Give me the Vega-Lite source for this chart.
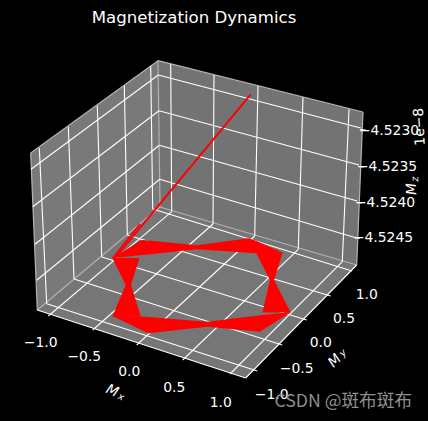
{
"$schema":"https://vega.github.io/schema/vega-lite/v6.json",
"width":428,"height":421,"padding":0,
"autosize":{"type":"fit","contains":"padding"},
"background":"#000000",
"view":{"stroke":null},
"config":{"text":{"font":"DejaVu Sans","color":"#ffffff"}},
"datasets":{
"panes":[
{"pane":"x","u":30.7,"v":153,"v2":153},{"pane":"x","u":37.3,"v":148.2,"v2":310},{"pane":"x","u":158,"v":60.7,"v2":208.5},{"pane":"x","u":160,"v":207,"v2":207},
{"pane":"y","u":158,"v":60.7,"v2":60.7},{"pane":"y","u":160,"v":61.2,"v2":207},{"pane":"y","u":356.7,"v":110.4,"v2":265},{"pane":"y","u":363,"v":112,"v2":112},
{"pane":"z","u":37.3,"v":310,"v2":310},{"pane":"z","u":160,"v":207,"v2":350},{"pane":"z","u":245.7,"v":232.3,"v2":378},{"pane":"z","u":356.7,"v":265,"v2":265}
],
"edges":[
{"u":30.7,"v":153,"u2":158,"v2":60.7},{"u":158,"v":60.7,"u2":363,"v2":112},{"u":158,"v":60.7,"u2":160,"v2":207},
{"u":160,"v":207,"u2":37.3,"v2":310},{"u":160,"v":207,"u2":356.7,"v2":265},{"u":30.7,"v":153,"u2":37.3,"v2":310},{"u":363,"v":112,"u2":356.7,"v2":265}
],
"grid":[
{"u":48.3,"v":316,"u2":171.7,"v2":211.7},{"u":171.7,"v":211.7,"u2":170.7,"v2":64},
{"u":92.7,"v":330,"u2":213,"v2":224},{"u":213,"v":224,"u2":214,"v2":75},
{"u":136.7,"v":345,"u2":254.7,"v2":236},{"u":254.7,"v":236,"u2":258,"v2":86},
{"u":182.7,"v":360,"u2":298.3,"v2":249.3},{"u":298.3,"v":249.3,"u2":303,"v2":97.3},
{"u":230,"v":374,"u2":342.3,"v2":261.7},{"u":342.3,"v":261.7,"u2":349,"v2":109.3},
{"u":46.7,"v":303.7,"u2":257.3,"v2":371},{"u":74,"v":279,"u2":282.3,"v2":345},{"u":101.7,"v":257,"u2":306.7,"v2":320},{"u":127.3,"v":235,"u2":330.7,"v2":296},{"u":152.7,"v":209,"u2":352,"v2":271},
{"u":39.3,"v":148,"u2":46.7,"v2":303.7},{"u":68.3,"v":126.7,"u2":74,"v2":279},{"u":97.3,"v":105.7,"u2":101.7,"v2":257},{"u":124.3,"v":85.7,"u2":127.3,"v2":235},{"u":150.7,"v":66,"u2":152.7,"v2":209},
{"u":31,"v":169.3,"u2":158.3,"v2":75},{"u":32.7,"v":206.7,"u2":159,"v2":110.7},{"u":35,"v":244.3,"u2":159.3,"v2":145.3},{"u":36.7,"v":280.3,"u2":159.7,"v2":179.3},
{"u":158.3,"v":75,"u2":360.7,"v2":128},{"u":159,"v":110.7,"u2":359,"v2":165},{"u":159.3,"v":145.3,"u2":357.3,"v2":201},{"u":159.7,"v":179.3,"u2":355.7,"v2":237.7},
{"u":360,"v":129.5,"u2":366,"v2":130},{"u":358.4,"v":166.5,"u2":364,"v2":167},{"u":356.7,"v":202.5,"u2":362,"v2":203},{"u":355,"v":238,"u2":360,"v2":238.3}
],
"axes":[
{"u":37.3,"v":310,"u2":245.7,"v2":378},{"u":245.7,"v":378,"u2":356.7,"v2":265}
],
"bandsV":[
{"part":"top","u":112.3,"v":258.3,"v2":258.3},{"part":"top","u":140,"v":241,"v2":255.3},{"part":"top","u":143.3,"v":240,"v2":254.9},{"part":"top","u":197,"v":245.3,"v2":249.3},{"part":"top","u":248.3,"v":238.2,"v2":252.7},{"part":"top","u":256,"v":240.7,"v2":253.3},{"part":"top","u":282.7,"v":252.7,"v2":252.7},
{"part":"bottom","u":112.3,"v":316,"v2":316},{"part":"bottom","u":141,"v":316.5,"v2":329.8},{"part":"bottom","u":148.3,"v":317,"v2":333.3},{"part":"bottom","u":207,"v":321.7,"v2":326.7},{"part":"bottom","u":260,"v":315.3,"v2":331.7},{"part":"bottom","u":262.7,"v":315,"v2":330},{"part":"bottom","u":290.7,"v":312.3,"v2":312.3}
],
"bandsH":[
{"part":"left","v":258,"u":112.3,"u2":139.4},{"part":"left","v":285,"u":125.7,"u2":131},{"part":"left","v":316.5,"u":112.3,"u2":140.8},
{"part":"right","v":252.7,"u":282.7,"u2":256},{"part":"right","v":280,"u":274,"u2":270},{"part":"right","v":312.5,"u":290.7,"u2":262.4}
],
"trace":[
{"u":250.7,"v":94.3,"u2":116.2,"v2":256.7},{"u":140,"v":224,"u2":113,"v2":258}
],
"ticklabels":[
{"label":"−1.0","u":40.7,"v":343.3},{"label":"−0.5","u":84.3,"v":357},{"label":"0.0","u":129.3,"v":372.3},{"label":"0.5","u":174.3,"v":388},{"label":"1.0","u":220.7,"v":403},
{"label":"−1.0","u":271.7,"v":395},{"label":"−0.5","u":296.7,"v":369.3},{"label":"0.0","u":320.7,"v":343.3},{"label":"0.5","u":344,"v":319.3},{"label":"1.0","u":366.7,"v":295},
{"label":"−4.5230","u":389,"v":130.7},{"label":"−4.5235","u":387,"v":167},{"label":"−4.5240","u":385,"v":203},{"label":"−4.5245","u":383,"v":237.7}
]
},
"encoding":{
"x":{"field":"u","type":"quantitative","axis":null,"scale":{"domain":[0,428],"nice":false,"zero":false}},
"y":{"field":"v","type":"quantitative","axis":null,"scale":{"domain":[421,0],"nice":false,"zero":false}}
},
"layer":[
{"data":{"name":"panes"},"mark":{"type":"area","orient":"vertical"},
 "encoding":{"y2":{"field":"v2"},"color":{"field":"pane","type":"nominal","legend":null,"scale":{"domain":["x","y","z"],"range":["#797979","#737373","#767676"]}}}},
{"data":{"name":"edges"},"mark":{"type":"rule","color":"#b4b4b4","strokeWidth":1.2},"encoding":{"x2":{"field":"u2"},"y2":{"field":"v2"}}},
{"data":{"name":"grid"},"mark":{"type":"rule","color":"#ffffff","strokeWidth":1.1},"encoding":{"x2":{"field":"u2"},"y2":{"field":"v2"}}},
{"data":{"name":"axes"},"mark":{"type":"rule","color":"#ffffff","strokeWidth":1.1},"encoding":{"x2":{"field":"u2"},"y2":{"field":"v2"}}},
{"data":{"name":"bandsV"},"mark":{"type":"area","orient":"vertical","color":"#ff0000"},"encoding":{"y2":{"field":"v2"},"detail":{"field":"part"}}},
{"data":{"name":"bandsH"},"mark":{"type":"area","orient":"horizontal","color":"#ff0000"},"encoding":{"x2":{"field":"u2"},"detail":{"field":"part"}}},
{"data":{"name":"trace"},"mark":{"type":"rule","color":"#ff0000","strokeWidth":2},"encoding":{"x2":{"field":"u2"},"y2":{"field":"v2"}}},
{"data":{"name":"ticklabels"},"mark":{"type":"text","fontSize":13.9,"align":"center","baseline":"middle"},"encoding":{"text":{"field":"label"}}},
{"data":{"values":[{"label":"Magnetization Dynamics","u":194,"v":18}]},"mark":{"type":"text","fontSize":16.6,"align":"center","baseline":"middle"},"encoding":{"text":{"field":"label"}}},
{"data":{"values":[{"label":"M","u":112,"v":391}]},"mark":{"type":"text","fontSize":13.9,"fontStyle":"italic","angle":24,"align":"center","baseline":"middle"},"encoding":{"text":{"field":"label"}}},
{"data":{"values":[{"label":"x","u":121,"v":397}]},"mark":{"type":"text","fontSize":9.7,"fontStyle":"italic","angle":24,"align":"center","baseline":"middle"},"encoding":{"text":{"field":"label"}}},
{"data":{"values":[{"label":"M","u":335,"v":361}]},"mark":{"type":"text","fontSize":13.9,"fontStyle":"italic","angle":-45,"align":"center","baseline":"middle"},"encoding":{"text":{"field":"label"}}},
{"data":{"values":[{"label":"y","u":343,"v":353}]},"mark":{"type":"text","fontSize":9.7,"fontStyle":"italic","angle":-45,"align":"center","baseline":"middle"},"encoding":{"text":{"field":"label"}}},
{"data":{"values":[{"label":"M","u":412,"v":189}]},"mark":{"type":"text","fontSize":13.9,"fontStyle":"italic","angle":-93,"align":"center","baseline":"middle"},"encoding":{"text":{"field":"label"}}},
{"data":{"values":[{"label":"z","u":415,"v":179}]},"mark":{"type":"text","fontSize":9.7,"fontStyle":"italic","angle":-93,"align":"center","baseline":"middle"},"encoding":{"text":{"field":"label"}}},
{"data":{"values":[{"label":"1e−8","u":419.7,"v":126.7}]},"mark":{"type":"text","fontSize":13.9,"angle":-93,"align":"center","baseline":"middle"},"encoding":{"text":{"field":"label"}}},
{"data":{"values":[{"label":"CSDN @斑布斑布","u":343.3,"v":402.3}]},"mark":{"type":"text","font":"Noto Sans CJK SC","fontSize":17.7,"color":"#8f8f8f","align":"center","baseline":"middle"},"encoding":{"text":{"field":"label"}}}
]
}
